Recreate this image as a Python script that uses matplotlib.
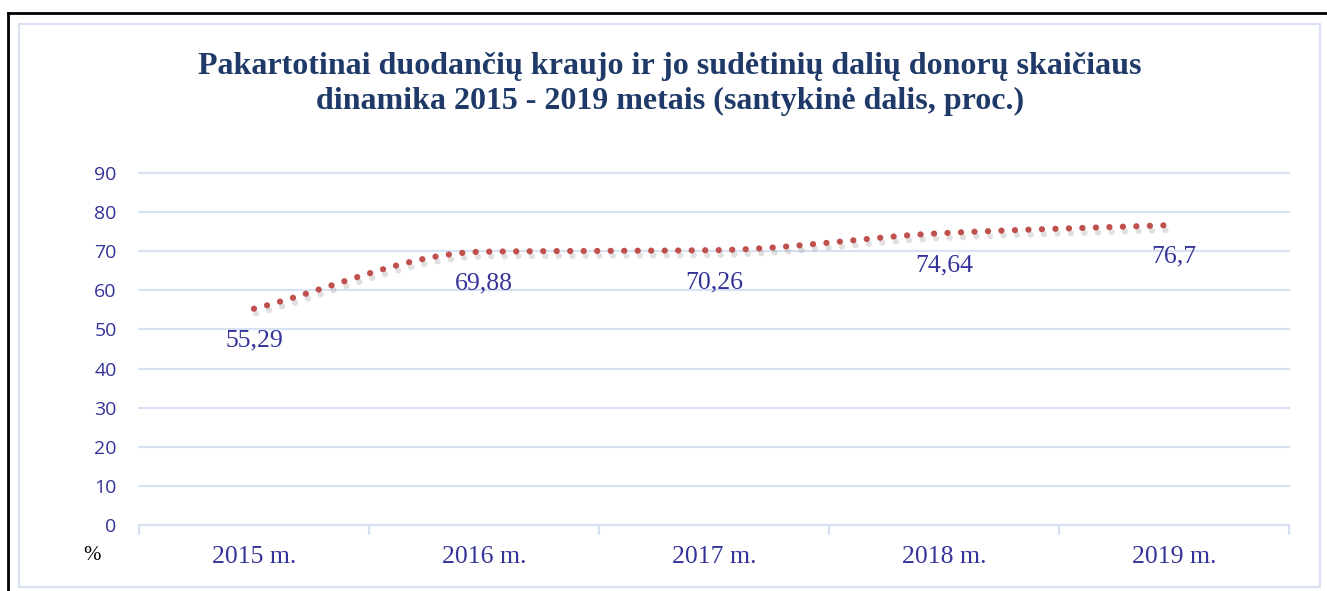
import matplotlib.pyplot as plt
import matplotlib.patheffects as pe
from matplotlib.patches import Rectangle
from matplotlib.lines import Line2D
import numpy as np

# Dados
years = ["2015 m.", "2016 m.", "2017 m.", "2018 m.", "2019 m."]
values = [55.29, 69.88, 70.26, 74.64, 76.7]
value_labels = ["55,29", "69,88", "70,26", "74,64", "76,7"]
yticks = [0, 10, 20, 30, 40, 50, 60, 70, 80, 90]

title = ("Pakartotinai duodančių kraujo ir jo sudėtinių dalių donorų skaičiaus\n"
         "dinamika 2015 - 2019 metais (santykinė dalis, proc.)")

label_color = "#343399"
grid_color = "#D6E2F3"
line_color = "#C0504D"


# Suavização monótona (sem ultrapassagem), parecida com a do Excel
def smooth(x, y, steps=60):
    x = np.asarray(x, float)
    y = np.asarray(y, float)
    h = np.diff(x)
    d = np.diff(y) / h
    m = np.zeros_like(y)
    m[0], m[-1] = d[0], d[-1]
    for i in range(1, len(y) - 1):
        if d[i - 1] * d[i] > 0:
            m[i] = 2 * d[i - 1] * d[i] / (d[i - 1] + d[i])
    xs, ys = [], []
    for i in range(len(h)):
        t = np.linspace(0, 1, steps, endpoint=(i == len(h) - 1))
        h00 = 2 * t**3 - 3 * t**2 + 1
        h10 = t**3 - 2 * t**2 + t
        h01 = -2 * t**3 + 3 * t**2
        h11 = t**3 - t**2
        xs.append(x[i] + t * h[i])
        ys.append(h00 * y[i] + h10 * h[i] * m[i] + h01 * y[i + 1] + h11 * h[i] * m[i + 1])
    return np.concatenate(xs), np.concatenate(ys)


fig = plt.figure(figsize=(13.27, 5.91), dpi=100)
ax = fig.add_axes([0.1047, 0.1117, 0.8667, 0.5956])

x = np.arange(len(years))
sx, sy = smooth(x, values)
ax.plot(sx, sy, color=line_color, linewidth=4.5, linestyle=(0, (0.01, 2.15)),
        dash_capstyle="round", zorder=3,
        path_effects=[pe.SimpleLineShadow(offset=(1.5, -3.5), shadow_color="#999999", alpha=0.3),
                      pe.Normal()])

for xi, v, lab in zip(x, values, value_labels):
    ax.annotate(lab, (xi, v), xytext=(0, -23), textcoords="offset points",
                ha="center", va="center", fontsize=18.5, color=label_color,
                family="Liberation Serif")

ax.set_xlim(-0.5, len(years) - 0.5)
ax.set_ylim(0, 90)
ax.set_yticks(yticks)
ax.set_yticklabels([str(t) for t in yticks], fontsize=14, color=label_color, family="Open Sans")
ax.set_xticks(x)
ax.set_xticklabels(years, fontsize=18.5, color=label_color, family="Liberation Serif")
ax.set_xticks(np.arange(len(years) + 1) - 0.5, minor=True)
ax.tick_params(axis="y", length=0, pad=16)
ax.tick_params(axis="x", which="major", length=0, pad=15)
ax.tick_params(axis="x", which="minor", length=7, color=grid_color, width=1.5)

ax.grid(axis="y", color=grid_color, linewidth=1.5)
for gl in ax.get_ygridlines():
    gl.set_clip_on(False)
ax.set_axisbelow(True)
for s in ["top", "right", "left"]:
    ax.spines[s].set_visible(False)
ax.spines["bottom"].set_color(grid_color)
ax.spines["bottom"].set_linewidth(1.5)

fig.text(0.505, 0.858, title, ha="center", va="center", fontsize=23, fontweight="bold",
         color="#1F3A68", family="Liberation Serif", linespacing=1.3)
fig.text(0.069, 0.06, "%", ha="center", va="center", fontsize=15, color="black",
         family="Liberation Serif")

# Molduras
fig.add_artist(Rectangle((19 / 1327, 4 / 591), 1301 / 1327, 563 / 591, transform=fig.transFigure,
                         fill=False, edgecolor=grid_color, linewidth=1.5))
fig.add_artist(Line2D([8 / 1327, 1], [1 - 13 / 591] * 2, transform=fig.transFigure,
                      color="black", linewidth=2))
fig.add_artist(Line2D([8 / 1327] * 2, [0, 1 - 13 / 591], transform=fig.transFigure,
                      color="black", linewidth=2))

fig.savefig("out.png", dpi=100)
